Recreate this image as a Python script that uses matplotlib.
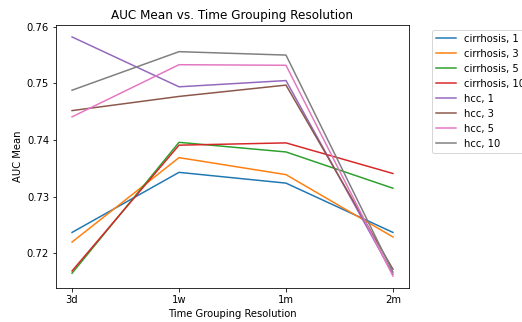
import matplotlib
matplotlib.use('Agg')
import matplotlib.pyplot as plt

# x categories
resolutions = ['3d', '1w', '1m', '2m']

# AUC means
cirrhosis_1 = [0.7237, 0.7343, 0.7324, 0.7237]
cirrhosis_3 = [0.7220, 0.7369, 0.7339, 0.7229]
cirrhosis_5 = [0.7165, 0.7396, 0.7379, 0.7315]
cirrhosis_10 = [0.7169, 0.7391, 0.7395, 0.7341]
hcc_1 = [0.7582, 0.7494, 0.7505, 0.7163]
hcc_3 = [0.7452, 0.7477, 0.7497, 0.7172]
hcc_5 = [0.7441, 0.7533, 0.7532, 0.7160]
hcc_10 = [0.7488, 0.7556, 0.7550, 0.7167]

series = [
    ('cirrhosis, 1', cirrhosis_1),
    ('cirrhosis, 3', cirrhosis_3),
    ('cirrhosis, 5', cirrhosis_5),
    ('cirrhosis, 10', cirrhosis_10),
    ('hcc, 1', hcc_1),
    ('hcc, 3', hcc_3),
    ('hcc, 5', hcc_5),
    ('hcc, 10', hcc_10),
]

fig, ax = plt.subplots(figsize=(522 / 72, 322 / 72), dpi=72)
fig.subplots_adjust(left=0.1073, right=0.7835, top=0.9224, bottom=0.1056)

for label, vals in series:
    ax.plot(resolutions, vals, label=label)

ax.set_title('AUC Mean vs. Time Grouping Resolution')
ax.set_xlabel('Time Grouping Resolution')
ax.set_ylabel('AUC Mean')
ax.legend(bbox_to_anchor=(1.05, 1), loc='upper left')

fig.savefig('out.png', dpi=72)
